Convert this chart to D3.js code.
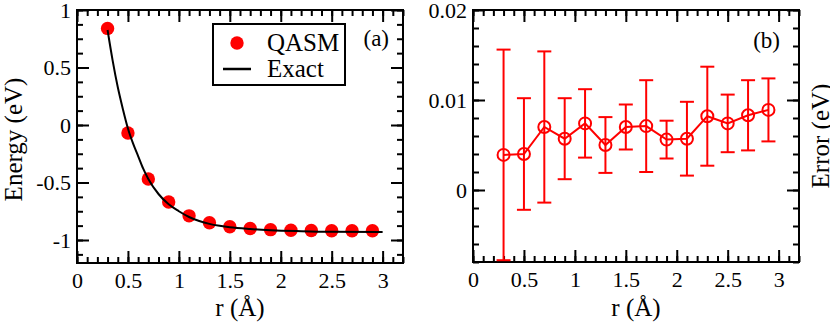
<!DOCTYPE html>
<html>
<head>
<meta charset="utf-8">
<script src="https://cdn.jsdelivr.net/npm/d3@7"></script>
<style>
  body { margin: 0; background: #fff; }
  svg text { font-family: "Liberation Serif", "DejaVu Serif", serif; fill: #000; }
</style>
</head>
<body>
<svg id="chart" width="830" height="324"></svg>
<script>
// QASM energies, panel (a)
const rQasm = [0.3, 0.5, 0.7, 0.9, 1.1, 1.3, 1.5, 1.7, 1.9, 2.1, 2.3, 2.5, 2.7, 2.9];
const eQasm = [0.84, -0.07, -0.47, -0.67, -0.79, -0.85, -0.885, -0.9, -0.91, -0.915, -0.918, -0.92, -0.92, -0.92];

// exact curve, panel (a)
const rExact = [0.3, 0.35, 0.4, 0.45, 0.5, 0.55, 0.6, 0.65, 0.7, 0.8, 0.9, 1.0, 1.1, 1.2, 1.3, 1.4, 1.5, 1.7, 1.9, 2.2, 2.5, 3.0];
const eExact = [0.826, 0.56, 0.33, 0.14, -0.03, -0.16, -0.27, -0.38, -0.47, -0.6, -0.69, -0.75, -0.8, -0.835, -0.86, -0.877, -0.89, -0.905, -0.915, -0.923, -0.928, -0.93];

// error with error bars, panel (b)
const errVal = [0.0039, 0.0040, 0.0070, 0.0057, 0.0074, 0.0050, 0.0070, 0.0071, 0.0056, 0.0057, 0.0082, 0.0074, 0.0083, 0.0089];
const errBar = [0.0117, 0.0062, 0.0084, 0.0045, 0.0038, 0.0031, 0.0025, 0.0051, 0.0021, 0.0041, 0.0055, 0.0032, 0.0039, 0.0035];

const xTicks = [0, 0.5, 1, 1.5, 2, 2.5, 3];
const xTickLabels = ['0', '0.5', '1', '1.5', '2', '2.5', '3'];
const yTicksA = [-1, -0.5, 0, 0.5, 1];
const yTickLabelsA = ['-1', '-0.5', '0', '0.5', '1'];
const yTicksB = [0, 0.01, 0.02];
const yTickLabelsB = ['0', '0.01', '0.02'];

const svg = d3.select('#chart');
const red = '#ff0000';
const serif = '"Liberation Serif", "DejaVu Serif", serif';

function drawFrame(g, x, y, opts) {
  const w = x.range()[1];
  const h = y.range()[0];
  const major = 12;
  const minor = 6;
  const styleAxis = (sel) => {
    sel.attr('font-family', null).attr('font-size', null);
    sel.select('.domain').remove();
    sel.selectAll('line').attr('stroke', '#000').attr('stroke-width', 2);
    sel.selectAll('text').style('font-size', '22px').style('font-family', serif);
  };
  // minor ticks
  g.append('g').attr('transform', `translate(0,${h})`)
    .call(d3.axisBottom(x).tickValues(opts.xMinor).tickSize(-minor).tickFormat(''))
    .call(styleAxis);
  g.append('g')
    .call(d3.axisTop(x).tickValues(opts.xMinor).tickSize(-minor).tickFormat(''))
    .call(styleAxis);
  g.append('g')
    .call(d3.axisLeft(y).tickValues(opts.yMinor).tickSize(-minor).tickFormat(''))
    .call(styleAxis);
  g.append('g').attr('transform', `translate(${w},0)`)
    .call(d3.axisRight(y).tickValues(opts.yMinor).tickSize(-minor).tickFormat(''))
    .call(styleAxis);
  // major ticks
  g.append('g').attr('transform', `translate(0,${h})`)
    .call(d3.axisBottom(x).tickValues(xTicks).tickSize(-major).tickPadding(9)
      .tickFormat((d, i) => xTickLabels[i]))
    .call(styleAxis);
  g.append('g')
    .call(d3.axisTop(x).tickValues(xTicks).tickSize(-major).tickFormat(''))
    .call(styleAxis);
  g.append('g')
    .call(d3.axisLeft(y).tickValues(opts.yTicks).tickSize(-major).tickPadding(6)
      .tickFormat((d, i) => opts.yLabels[i]))
    .call(styleAxis);
  g.append('g').attr('transform', `translate(${w},0)`)
    .call(d3.axisRight(y).tickValues(opts.yTicks).tickSize(-major).tickFormat(''))
    .call(styleAxis);
  g.append('rect')
    .attr('width', w)
    .attr('height', h)
    .attr('fill', 'none')
    .attr('stroke', '#000')
    .attr('stroke-width', 2);
}

// ---- panel (a)
const pa = { left: 77, top: 10, width: 326, height: 253 };
const xa = d3.scaleLinear().domain([0, 3.2]).range([0, pa.width]);
const ya = d3.scaleLinear().domain([-1.2, 1]).range([pa.height, 0]);
const ga = svg.append('g').attr('transform', `translate(${pa.left},${pa.top})`);

drawFrame(ga, xa, ya, {
  xMinor: d3.range(0, 3.21, 0.1),
  yMinor: d3.range(-1.125, 1.01, 0.125),
  yTicks: yTicksA,
  yLabels: yTickLabelsA,
});

ga.append('g')
  .selectAll('circle')
  .data(rQasm)
  .enter()
  .append('circle')
  .attr('cx', d => xa(d))
  .attr('cy', (d, i) => ya(eQasm[i]))
  .attr('r', 6.7)
  .attr('fill', red);

const exactLine = d3.line()
  .x(d => xa(d))
  .y((d, i) => ya(eExact[i]))
  .curve(d3.curveMonotoneX);
ga.append('path')
  .datum(rExact)
  .attr('d', exactLine)
  .attr('fill', 'none')
  .attr('stroke', '#000')
  .attr('stroke-width', 2);

// legend
const legend = ga.append('g').attr('transform', 'translate(136,14)');
legend.append('rect')
  .attr('width', 132).attr('height', 61)
  .attr('fill', '#fff').attr('stroke', '#000').attr('stroke-width', 2);
legend.append('circle').attr('cx', 24).attr('cy', 19).attr('r', 6.7).attr('fill', red);
legend.append('line')
  .attr('x1', 10).attr('x2', 38).attr('y1', 45).attr('y2', 45)
  .attr('stroke', '#000').attr('stroke-width', 2.5);
legend.append('text').attr('x', 54).attr('y', 27).style('font-size', '25px').text('QASM');
legend.append('text').attr('x', 54).attr('y', 53).style('font-size', '25px').text('Exact');

ga.append('text').attr('x', pa.width - 14).attr('y', 36)
  .attr('text-anchor', 'end').style('font-size', '23px').text('(a)');

svg.append('text')
  .attr('transform', `translate(22,${pa.top + pa.height / 2 + 3}) rotate(-90)`)
  .attr('text-anchor', 'middle').style('font-size', '25px').text('Energy (eV)');
svg.append('text')
  .attr('x', pa.left + pa.width / 2).attr('y', 316)
  .attr('text-anchor', 'middle').style('font-size', '25px').text('r (Å)');

// ---- panel (b)
const pb = { left: 473, top: 10, width: 326, height: 252 };
const xb = d3.scaleLinear().domain([0, 3.2]).range([0, pb.width]);
const yb = d3.scaleLinear().domain([-0.008, 0.02]).range([pb.height, 0]);
const gb = svg.append('g').attr('transform', `translate(${pb.left},${pb.top})`);

drawFrame(gb, xb, yb, {
  xMinor: d3.range(0, 3.21, 0.1),
  yMinor: d3.range(-0.008, 0.0201, 0.002),
  yTicks: yTicksB,
  yLabels: yTickLabelsB,
});

const bars = gb.append('g')
  .selectAll('g')
  .data(rQasm)
  .enter()
  .append('g')
  .attr('stroke', red)
  .attr('stroke-width', 2);
bars.append('line')
  .attr('x1', d => xb(d)).attr('x2', d => xb(d))
  .attr('y1', (d, i) => yb(errVal[i] - errBar[i]))
  .attr('y2', (d, i) => yb(errVal[i] + errBar[i]));
bars.append('line')
  .attr('x1', d => xb(d) - 7).attr('x2', d => xb(d) + 7)
  .attr('y1', (d, i) => yb(errVal[i] + errBar[i]))
  .attr('y2', (d, i) => yb(errVal[i] + errBar[i]));
bars.append('line')
  .attr('x1', d => xb(d) - 7).attr('x2', d => xb(d) + 7)
  .attr('y1', (d, i) => yb(errVal[i] - errBar[i]))
  .attr('y2', (d, i) => yb(errVal[i] - errBar[i]));

const errLine = d3.line()
  .x(d => xb(d))
  .y((d, i) => yb(errVal[i]));
gb.append('path')
  .datum(rQasm)
  .attr('d', errLine)
  .attr('fill', 'none')
  .attr('stroke', red)
  .attr('stroke-width', 2);

gb.append('g')
  .selectAll('circle')
  .data(rQasm)
  .enter()
  .append('circle')
  .attr('cx', d => xb(d))
  .attr('cy', (d, i) => yb(errVal[i]))
  .attr('r', 6)
  .attr('fill', 'none')
  .attr('stroke', red)
  .attr('stroke-width', 2);

gb.append('text').attr('x', pb.width - 19).attr('y', 38)
  .attr('text-anchor', 'end').style('font-size', '23px').text('(b)');

svg.append('text')
  .attr('transform', `translate(829,${pb.top + pb.height / 2}) rotate(-90)`)
  .attr('text-anchor', 'middle').style('font-size', '25px').text('Error (eV)');
svg.append('text')
  .attr('x', pb.left + pb.width / 2).attr('y', 316)
  .attr('text-anchor', 'middle').style('font-size', '25px').text('r (Å)');
</script>
</body>
</html>
